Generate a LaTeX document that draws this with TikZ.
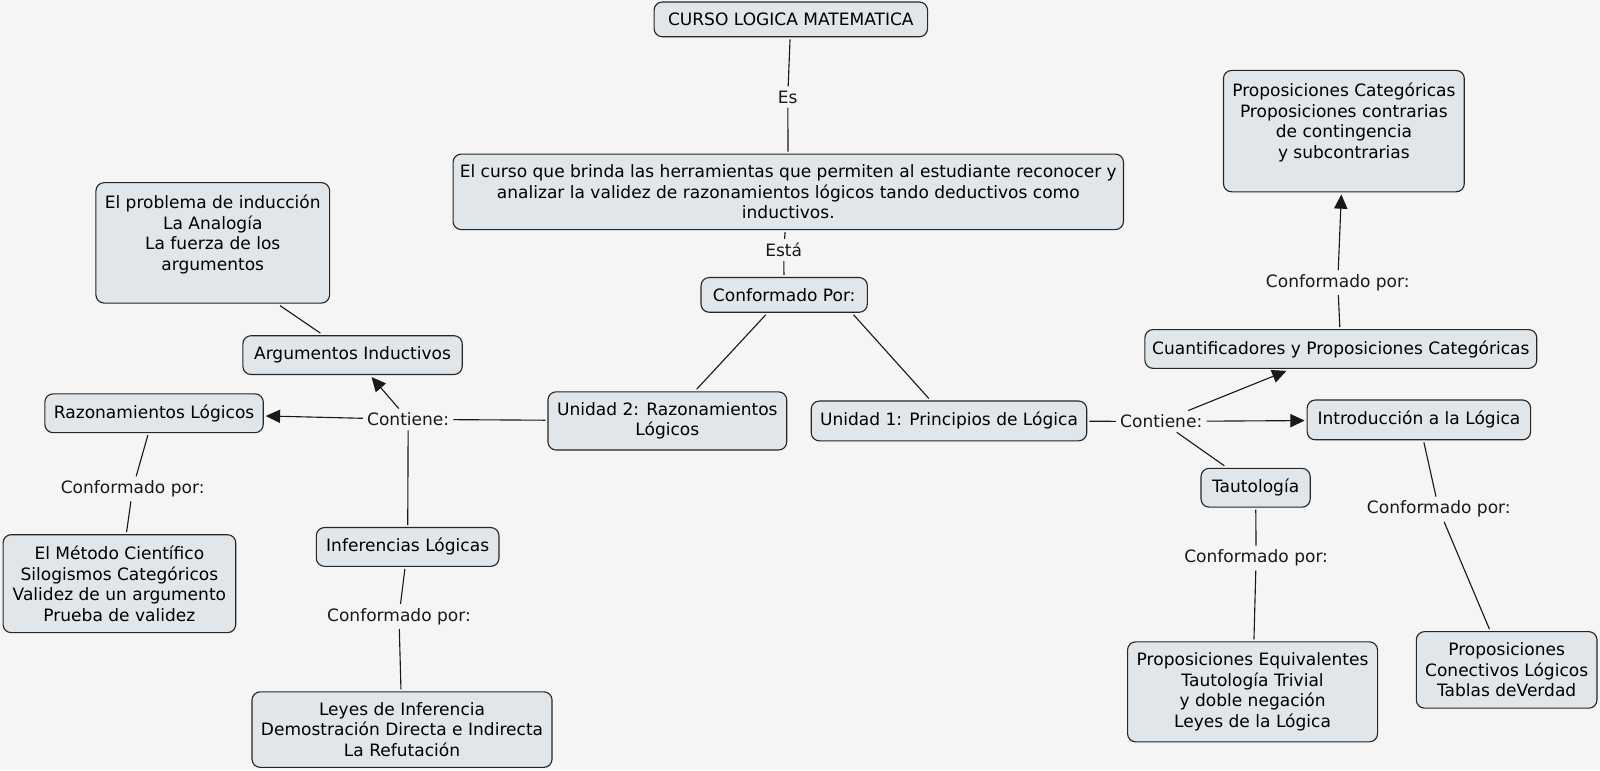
\documentclass[tikz,border=0pt]{standalone}
\usepackage{fontspec}
\setmainfont{DejaVu Sans}
\usetikzlibrary{arrows.meta}
\definecolor{bgcol}{RGB}{245,245,245}
\definecolor{boxfill}{RGB}{224,230,233}
\newcommand{\cmfont}{\fontsize{16.7}{20.2}\selectfont}
\tikzset{
  concept/.style={draw=black!85, line width=1.1pt, fill=boxfill, rounded corners=8pt,
    align=center, inner sep=0pt, outer sep=2.5pt, font=\cmfont},
  lbl/.style={inner sep=4pt, font=\cmfont, text=black!90},
  link/.style={line width=1.1pt, draw=black!90},
  arr/.style={link, -{Triangle[length=14pt,width=13pt]}},
}
\begin{document}
\begin{tikzpicture}[x=1pt,y=-1pt]
\fill[bgcol] (0,0) rectangle (1568,754.6);
\useasboundingbox (0,0) rectangle (1568,754.6);

% concept boxes
\node[concept, minimum width=268pt, minimum height=34pt] (top) at (775,19) {CURSO LOGICA MATEMATICA};
\node[concept, minimum width=657pt, minimum height=74pt] (curso) at (772.5,188)
  {El curso que brinda las herramientas que permiten al estudiante reconocer y\\analizar la validez de razonamientos lógicos tando deductivos como\\inductivos.};
\node[concept, minimum width=163pt, minimum height=34pt] (confPor) at (768.5,289) {Conformado Por:};
\node[concept, minimum width=234pt, minimum height=57pt] (u2) at (654,412.5) {Unidad 2: Razonamientos\\Lógicos};
\node[concept, minimum width=270pt, minimum height=39pt] (u1) at (930,412.5) {Unidad 1: Principios de Lógica};
\node[concept, minimum width=215pt, minimum height=38pt] (argInd) at (345.5,348) {Argumentos Inductivos};
\node[concept, minimum width=229pt, minimum height=118pt] (probl) at (208.5,238)
  {El problema de inducción\\La Analogía\\La fuerza de los\\argumentos\\\mbox{}};
\node[concept, minimum width=214pt, minimum height=38pt] (razLog) at (151,405) {Razonamientos Lógicos};
\node[concept, minimum width=179pt, minimum height=38pt] (infLog) at (399.5,536) {Inferencias Lógicas};
\node[concept, minimum width=228pt, minimum height=96pt] (metodo) at (117,572)
  {El Método Científico\\Silogismos Categóricos\\Validez de un argumento\\Prueba de validez};
\node[concept, minimum width=294pt, minimum height=74pt] (leyes) at (394,715)
  {Leyes de Inferencia\\Demostración Directa e Indirecta\\La Refutación};
\node[concept, minimum width=384pt, minimum height=38pt] (cuant) at (1314,342) {Cuantificadores y Proposiciones Categóricas};
\node[concept, minimum width=219pt, minimum height=39pt] (intro) at (1390.5,411.5) {Introducción a la Lógica};
\node[concept, minimum width=107pt, minimum height=38pt] (taut) at (1230.5,478) {Tautología};
\node[concept, minimum width=236pt, minimum height=119pt] (propCat) at (1317,128.5)
  {Proposiciones Categóricas\\Proposiciones contrarias\\de contingencia\\y subcontrarias\\\mbox{}};
\node[concept, minimum width=245pt, minimum height=98pt] (propEq) at (1227.5,678)
  {Proposiciones Equivalentes\\Tautología Trivial\\y doble negación\\Leyes de la Lógica};
\node[concept, minimum width=177pt, minimum height=75pt] (propCon) at (1476.5,656.5)
  {Proposiciones\\Conectivos Lógicos\\Tablas deVerdad};

% linking phrases
\node[lbl] (es) at (772,95) {Es};
\node[lbl] (esta) at (768,245) {Está};
\node[lbl] (contL) at (400,411) {Contiene:};
\node[lbl] (confL1) at (130,479) {Conformado por:};
\node[lbl] (confL2) at (391,604) {Conformado por:};
\node[lbl] (contR) at (1138,413) {Contiene:};
\node[lbl] (confR1) at (1311,277) {Conformado por:};
\node[lbl] (confR2) at (1231,547) {Conformado por:};
\node[lbl] (confR3) at (1410,499) {Conformado por:};

% connectors
\draw[link] (top) -- (es);
\draw[link] (es) -- (curso);
\draw[link] (curso) -- (esta);
\draw[link] (esta) -- (confPor);
\draw[link] (confPor) -- (u2);
\draw[link] (confPor.-16) -- (u1);
\draw[link] (u2) -- (contL);
\draw[arr] (contL) -- (razLog);
\draw[arr] (contL) -- (argInd);
\draw[link] (contL) -- (infLog);
\draw[link] (argInd) -- (probl.-43);
\draw[link] (razLog) -- (confL1);
\draw[link] (confL1) -- (metodo);
\draw[link] (infLog) -- (confL2);
\draw[link] (confL2) -- (leyes);
\draw[link] (u1) -- (contR);
\draw[arr] (contR) -- (cuant);
\draw[arr] (contR) -- (intro);
\draw[link] (contR) -- (taut);
\draw[link] (cuant) -- (confR1);
\draw[arr] (confR1) -- (propCat);
\draw[link] (taut) -- (confR2);
\draw[link] (confR2) -- (propEq);
\draw[link] (intro) -- (confR3);
\draw[link] (confR3) -- (propCon);
\end{tikzpicture}
\end{document}
